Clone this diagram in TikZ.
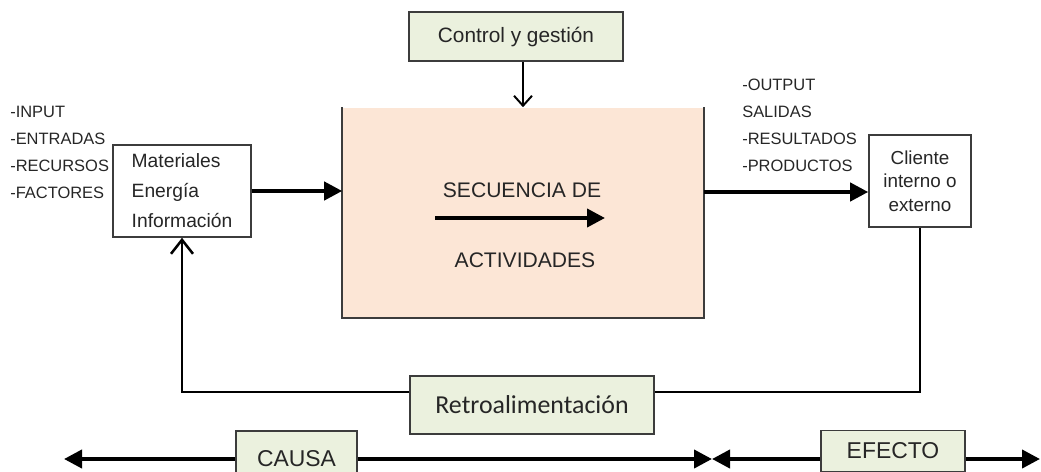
\documentclass[tikz,border=0pt]{standalone}
\usepackage{fontspec}
\setmainfont{Liberation Sans}
\newfontfamily\retrofont{Carlito}
\usepackage{xcolor}
\usepackage{tikz}
\usetikzlibrary{arrows.meta, positioning, calc}
\definecolor{pcgreen}{HTML}{EBF1DE}
\definecolor{pcpeach}{HTML}{FCE6D6}
\definecolor{pcline}{HTML}{3C3C3C}
\definecolor{pctext}{HTML}{262626}

\begin{document}
\begin{tikzpicture}[
    x=0.25mm, y=-0.25mm,
    box/.style={rectangle, draw=pcline, line width=1.1pt, fill=#1, text=pctext, align=center, inner sep=0pt},
    box/.default=white,
    lbl/.style={font=\fontsize{11.7}{19.2}\selectfont, text=pctext, align=left, inner sep=0pt, anchor=west},
    thk/.style={-{Triangle[length=4.5mm, width=4.5mm]}, line width=2.8pt, color=black},
    ctrlarrow/.style={-{Straight Barb[length=2.5mm, width=4.5mm]}, line width=1.4pt, color=black},
    fbline/.style={line width=1.8pt, color=black},
    fbtip/.style={-{Straight Barb[length=3.5mm, width=5.5mm]}}
]
\useasboundingbox (0,0) rectangle (1041,472);

% Control and process
\node[box=pcgreen, minimum width=53.5mm, minimum height=12.25mm, font=\fontsize{14.8}{17}\selectfont] (ctrl) at (516,36.5) {Control y gestión};
\node[box=pcpeach, draw=none, minimum width=90mm, minimum height=52.25mm] (proc) at (523,212.5) {};
\draw[pcline, line width=1.1pt] (proc.north west) -- (proc.south west) -- (proc.south east) -- (proc.north east);

\node[font=\fontsize{15}{18}\selectfont, text=pctext] (seqtop) at (522,190) {SECUENCIA DE};
\node[font=\fontsize{15}{18}\selectfont, text=pctext] (seqbot) at (525,260) {ACTIVIDADES};
\coordinate (seqa) at (435,218);
\coordinate (seqb) at (605,218);
\draw[thk] (seqa) -- (seqb);

\draw[ctrlarrow] (proc.north |- ctrl.south) -- (proc.north);

% Inputs
\node[lbl] (inlbl) at (10,152) {-INPUT\\-ENTRADAS\\-RECURSOS\\-FACTORES};
\node[box, minimum width=34.5mm, minimum height=23mm, align=left, font=\fontsize{13.7}{21.3}\selectfont] (mat) at (182,191) {Materiales\\Energía\\Información};
\draw[thk] (mat.east) -- (mat.east -| proc.west);

% Outputs
\node[lbl] (outlbl) at (742,125) {-OUTPUT\\SALIDAS\\-RESULTADOS\\-PRODUCTOS};
\node[box, minimum width=25.5mm, minimum height=23mm, font=\fontsize{13.4}{16.7}\selectfont] (client) at (920,181) {Cliente\\interno o\\externo};
\coordinate (outlvl) at (800,192);
\draw[thk] (proc.east |- outlvl) -- (client.west |- outlvl);

% Feedback
\node[box=pcgreen, minimum width=61mm, minimum height=14.5mm, font=\retrofont\fontsize{18.4}{22}\selectfont] (retro) at (532,405) {Retroalimentación};
\coordinate (fbrow) at (600,392);
\draw[fbline] (client.south) |- (retro.east |- fbrow);
\draw[fbline, fbtip] (retro.west |- fbrow) -| (mat.south);

% Cause and effect
\node[box=pcgreen, minimum width=30.25mm, minimum height=14mm, font=\fontsize{16.3}{19}\selectfont] (causa) at (296.5,459) {CAUSA};
\node[box=pcgreen, minimum width=36mm, minimum height=10.25mm, font=\fontsize{16.3}{19}\selectfont] (efecto) at (893,451) {EFECTO};
\coordinate (lft) at (64,459);
\coordinate (mid) at (712,459);
\coordinate (rgt) at (1040,459);
\draw[thk] (causa.west) -- (lft);
\draw[thk] (causa.east) -- (mid);
\draw[thk] (efecto.west |- mid) -- (mid);
\draw[thk] (efecto.east |- mid) -- (rgt);

\end{tikzpicture}
\end{document}
